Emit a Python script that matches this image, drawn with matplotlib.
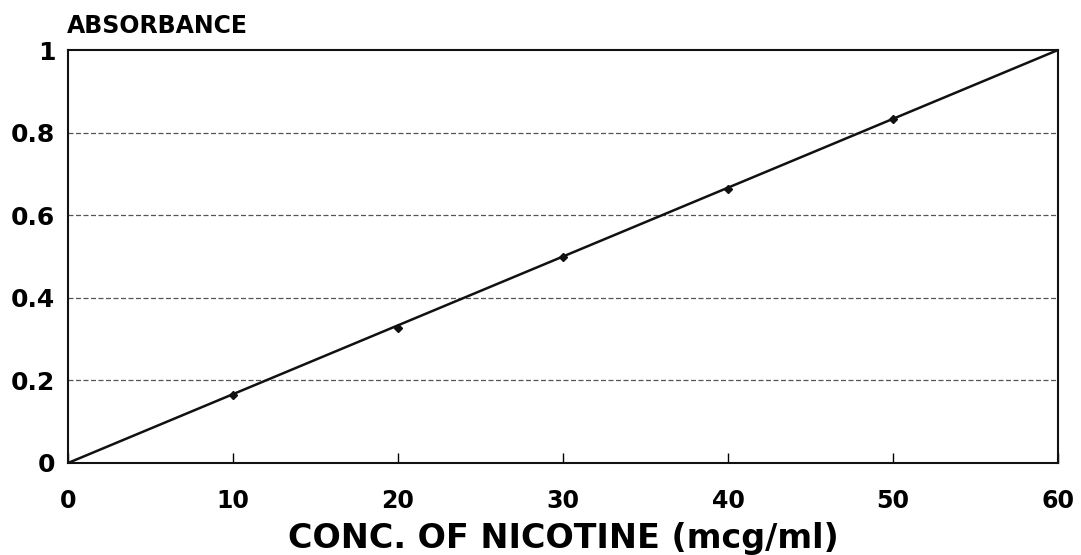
import matplotlib.pyplot as plt
import numpy as np

conc = [10, 20, 30, 40, 50]
absorbance = [0.165, 0.327, 0.498, 0.663, 0.834]
fit_x = [0, 60]
fit_y = [0, 1.0]
xticks = [0, 10, 20, 30, 40, 50, 60]
yticks = [0, 0.2, 0.4, 0.6, 0.8, 1]
ytick_labels = ["0", "0.2", "0.4", "0.6", "0.8", "1"]

plt.rcParams['font.family'] = ['DejaVu Sans']
fig = plt.figure(figsize=(10.81, 5.55), dpi=100)
ax = fig.add_axes([68/1081, 1 - 463/555, (1058-68)/1081, (463-50)/555])

for y in yticks[1:-1]:
    ax.axhline(y, color="#555555", lw=0.9, ls=(0, (4, 2)), zorder=1)

ax.plot(fit_x, fit_y, color="#111111", lw=1.8, zorder=2)
ax.plot(conc, absorbance, ls="none", marker="D", ms=4.5, color="#111111", zorder=3)

ax.set_xlim(0, 60)
ax.set_ylim(0, 1)
ax.set_xticks(xticks)
ax.set_yticks(yticks)
ax.set_yticklabels(ytick_labels)
ax.tick_params(axis="x", direction="in", length=7, width=1, pad=19, labelsize=17)
ax.tick_params(axis="y", length=0, pad=9, labelsize=18)
for lab in ax.get_xticklabels() + ax.get_yticklabels():
    lab.set_fontweight("bold")
for s in ax.spines.values():
    s.set_linewidth(1.5)
    s.set_color("#111111")

ax.set_xlabel("CONC. OF NICOTINE (mcg/ml)", fontsize=24, fontweight="bold", labelpad=6)
fig.text(67/1081, 1 - 33/555, "ABSORBANCE", fontsize=17, fontweight="bold", ha="left", va="baseline")

fig.savefig("out.png", dpi=100)
